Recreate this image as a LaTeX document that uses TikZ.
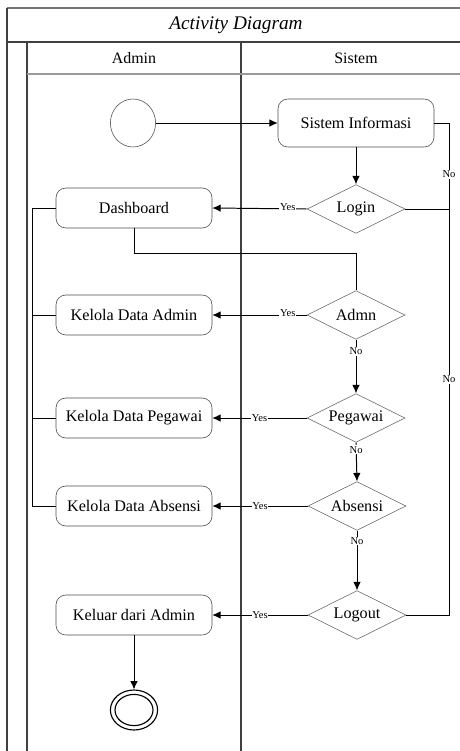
\documentclass[tikz,border=0pt]{standalone}
\usepackage{fontspec}
\setmainfont{Liberation Serif}
\usetikzlibrary{shapes.geometric,arrows.meta}

\begin{document}
\begin{tikzpicture}

\tikzset{line/.style={draw,line width=0.7pt}}
\tikzset{arrow/.style={line,-{Latex[length=2.1mm,width=1.9mm]}}}
\tikzset{lane/.style={draw=black!75,line width=0.8pt}}
\tikzset{act/.style={draw=black!70,rounded corners=7pt,minimum width=3.9cm,minimum height=1.0cm,inner sep=0pt,font=\fontsize{11.5}{13}\selectfont}}
\tikzset{dec/.style={draw=black!60,diamond,aspect=2,minimum width=2.45cm,minimum height=1.22cm,inner sep=0pt,font=\fontsize{11.5}{13}\selectfont}}
\tikzset{lbl/.style={fill=white,inner sep=0.5pt,font=\fontsize{7.5}{8}\selectfont}}

\useasboundingbox (0,0) rectangle (11.475,-18.775);

% swimlane frame
\draw[lane,draw=black!55] (0.175,-0.2) -- (12,-0.2);
\draw[lane] (0.175,-0.2) -- (0.175,-19);
\draw[lane] (0.175,-1.05) -- (12,-1.05);
\draw[lane] (0.675,-1.05) -- (0.675,-19);
\draw[lane] (6.025,-1.05) -- (6.025,-19);
\draw[lane,draw=black!40] (0.675,-1.85) -- (12,-1.85);
\node (title) at (5.9,-0.63) {\fontsize{13.7}{15}\selectfont\itshape Activity Diagram};
\node (admin) at (3.35,-1.45) {\fontsize{11.3}{13}\selectfont Admin};
\node (sistem) at (8.9,-1.45) {\fontsize{11.3}{13}\selectfont Sistem};

% start / end
\node[draw=black!70,ellipse,minimum width=1.13cm,minimum height=1.2cm] (start) at (3.325,-3.075) {};
\node[draw=black,line width=0.8pt,ellipse,minimum width=1.18cm,minimum height=1.0cm] (end) at (3.35,-17.75) {};
\node[draw=black,line width=0.8pt,ellipse,minimum width=0.95cm,minimum height=0.78cm] (endin) at (3.35,-17.75) {};

% activities
\node[act,minimum height=1.2cm] (sysinfo) at (8.9,-3.075) {Sistem Informasi};
\node[act] (dashboard) at (3.35,-5.2) {Dashboard};
\node[act] (kelAdmin) at (3.35,-7.875) {Kelola Data Admin};
\node[act] (kelPegawai) at (3.35,-10.45) {Kelola Data Pegawai};
\node[act] (kelAbsensi) at (3.35,-12.65) {Kelola Data Absensi};
\node[act] (keluar) at (3.35,-15.375) {Keluar dari Admin};

% decisions
\node[dec] (login) at (8.9,-5.225) {Login};
\node[dec] (admn) at (8.9,-7.875) {Admn};
\node[dec] (pegawai) at (8.9,-10.45) {Pegawai};
\node[dec] (absensi) at (8.925,-12.65) {Absensi};
\node[dec] (logout) at (8.925,-15.375) {Logout};

\coordinate (noR) at (11.225,-3.075);
\coordinate (bus) at (0.8,-5.2);

\path[arrow] (start) to (sysinfo);
\path[arrow] (sysinfo) to (login);
\path[arrow] (login.west) -- node[lbl,pos=0.2,yshift=1pt] (yes1) {Yes} (dashboard.east);
\path[arrow] (admn.west) -- node[lbl,pos=0.2,yshift=1pt] (yes2) {Yes} (kelAdmin.east);
\path[arrow] (pegawai.west) -- node[lbl,pos=0.5] (yes3) {Yes} (kelPegawai.east);
\path[arrow] (absensi.west) -- node[lbl,pos=0.5] (yes4) {Yes} (kelAbsensi.east);
\path[arrow] (logout.west) -- node[lbl,pos=0.5] (yes5) {Yes} (keluar.east);

\path[arrow] (admn.south) -- node[lbl,pos=0.22] (no1) {No} (pegawai.north);
\path[arrow] (pegawai.south) -- node[lbl,pos=0.18] (no2) {No} (absensi.north);
\path[arrow] (absensi.south) -- node[lbl,pos=0.17] (no3) {No} (logout.north);

\path[line] (login.east) -| node[lbl,pos=0.7] (no4) {No} (noR) -- (sysinfo.east);
\path[line] (logout.east) -| node[lbl,pos=0.79] (no5) {No} (noR |- login.east);

\path[line] (dashboard.south) -- ++(0,-0.625) -| (admn.north);

\path[line] (dashboard.west) -| (bus |- kelAbsensi.west) -- (kelAbsensi.west);
\path[line] (kelAdmin.west) -- (bus |- kelAdmin.west);
\path[line] (kelPegawai.west) -- (bus |- kelPegawai.west);

\path[arrow] (keluar) to (end);

\end{tikzpicture}
\end{document}
